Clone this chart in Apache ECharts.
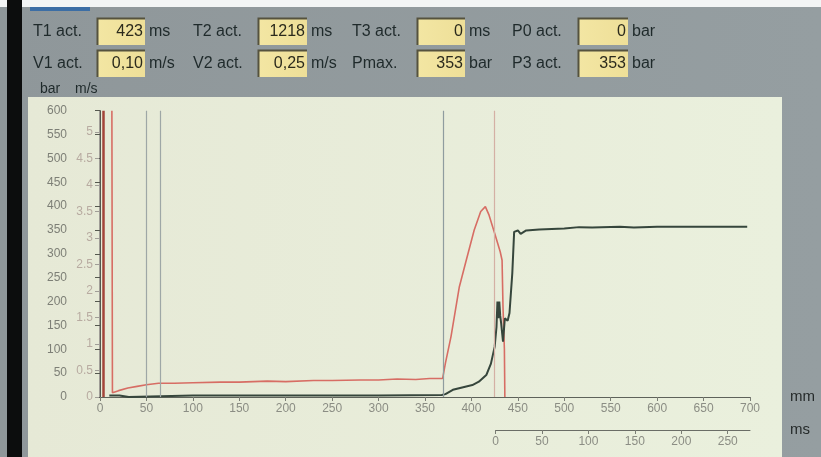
<!DOCTYPE html>
<html>
<head>
<meta charset="utf-8">
<script src="https://cdn.jsdelivr.net/npm/echarts@6/dist/echarts.min.js"></script>
<style>
  html, body { margin: 0; padding: 0; background: #949c9f; }
  #chart { width: 821px; height: 457px; }
</style>
</head>
<body>
<div id="chart"></div>
<script>
// header read-outs
var fieldNames  = ['T1 act.', 'T2 act.', 'T3 act.', 'P0 act.', 'V1 act.', 'V2 act.', 'Pmax.', 'P3 act.'];
var fieldValues = ['423', '1218', '0', '0', '0,10', '0,25', '353', '353'];
var fieldUnits  = ['ms', 'ms', 'ms', 'bar', 'm/s', 'm/s', 'bar', 'bar'];

// axis ticks
var speedTicks = [0, 0.5, 1, 1.5, 2, 2.5, 3, 3.5, 4, 4.5, 5];
var timeTicks  = [0, 50, 100, 150, 200, 250];

// velocity curve (m/s) against stroke (mm)
var speedMm  = [12.8, 13.4, 20, 30, 40, 50, 63, 80, 100, 130, 150, 180, 200, 230, 250, 280, 300, 320, 340, 355, 369,
                372, 378, 387, 394, 403, 410, 415, 419, 425, 431, 433, 434, 435.5, 436];
var speedVal = [5.4, 0.08, 0.12, 0.17, 0.2, 0.23, 0.26, 0.26, 0.27, 0.28, 0.28, 0.3, 0.29, 0.31, 0.31, 0.32, 0.32, 0.34, 0.33, 0.35, 0.35,
                0.64, 1.14, 2.08, 2.55, 3.15, 3.5, 3.59, 3.43, 3.09, 2.74, 2.58, 1.7, 0.9, 0];

// pressure curve (bar) against stroke (mm)
var pressMm  = [10, 21, 22, 31, 32, 100, 200, 300, 368, 372, 380, 390, 401, 408, 416, 421, 425, 427, 428, 429, 430, 431,
                432, 434, 436, 439, 441, 444, 446, 450, 453, 459, 473, 500, 516, 530, 560, 575, 600, 650, 697];
var pressVal = [3, 3, 0, 0, 3, 3, 3, 3, 4, 6, 15, 20, 25, 32, 46, 70, 105, 147, 200, 165, 200, 170,
                155, 116, 165, 160, 176, 259, 346, 349, 342, 349, 351, 353, 356, 355, 357, 355, 357, 357, 357];

// cursor lines (mm)
var cursorMm = [3, 50, 65, 370, 425];
var cursorColors = ['#a3443a', '#9ea7a6', '#9ea7a6', '#8f9c9f', '#d4b0a4'];

function zip(a, b) { return a.map(function (v, i) { return [v, b[i]]; }); }

var font = 'Liberation Sans, Arial, sans-serif';
var g = [];
g.push({ type: 'rect', z: -30, shape: { x: 0, y: 0, width: 821, height: 457 },
  style: { fill: new echarts.graphic.LinearGradient(0, 0, 1, 0, [{ offset: 0, color: '#8f979a' }, { offset: 1, color: '#959ea1' }]) } });
g.push({ type: 'rect', z: -29, shape: { x: 0, y: 0, width: 821, height: 7 }, style: { fill: '#f3f5f5' } });
g.push({ type: 'rect', z: -29, shape: { x: 7, y: 0, width: 15, height: 457 }, style: { fill: '#0c0d0d' } });
g.push({ type: 'rect', z: -29, shape: { x: 30, y: 7, width: 60, height: 4 }, style: { fill: '#3c6ea5' } });
g.push({ type: 'rect', z: -28, shape: { x: 28, y: 97, width: 754, height: 360 },
  style: { fill: new echarts.graphic.LinearGradient(0, 0, 1, 0, [{ offset: 0, color: '#e6e9d6' }, { offset: 1, color: '#eaf0dd' }]) } });

var labelX = [33, 193, 352, 512];
var boxX = [97, 258, 417, 578];
var boxW = [48, 49, 48, 50];
var boxTop = [18, 50];
fieldNames.forEach(function (name, i) {
  var c = i % 4, r = Math.floor(i / 4);
  var y = boxTop[r], mid = y + 13.5;
  g.push({ type: 'text', x: labelX[c], y: mid, style: { text: name, font: '16px ' + font, fill: '#1f2a2b', textVerticalAlign: 'middle' } });
  g.push({ type: 'rect', shape: { x: boxX[c], y: y, width: boxW[c], height: 27 },
    style: { fill: new echarts.graphic.LinearGradient(0, 0, 1, 0, [{ offset: 0, color: '#f3e6a3' }, { offset: 1, color: '#eedf98' }]) } });
  g.push({ type: 'polyline', shape: { points: [[boxX[c] + 0.5, y + 27], [boxX[c] + 0.5, y + 0.5], [boxX[c] + boxW[c], y + 0.5]] },
    style: { stroke: '#55523e', lineWidth: 2, fill: null } });
  g.push({ type: 'text', x: boxX[c] + boxW[c] - 2, y: mid, style: { text: fieldValues[i], font: '16px ' + font, fill: '#2b2a1c', textAlign: 'right', textVerticalAlign: 'middle' } });
  g.push({ type: 'text', x: boxX[c] + boxW[c] + 4, y: mid, style: { text: fieldUnits[i], font: '16px ' + font, fill: '#1f2a2b', textVerticalAlign: 'middle' } });
});
g.push({ type: 'text', x: 40, y: 89, style: { text: 'bar', font: '14px ' + font, fill: '#1f2a2b', textVerticalAlign: 'middle' } });
g.push({ type: 'text', x: 75, y: 89, style: { text: 'm/s', font: '14px ' + font, fill: '#1f2a2b', textVerticalAlign: 'middle' } });

var chart = echarts.init(document.getElementById('chart'));
chart.setOption({
  animation: false,
  textStyle: { fontFamily: font },
  graphic: g,
  grid: [
    { left: 100, right: 71, top: 110.7, bottom: 60 },
    { left: 495.6, right: 71, top: 410, bottom: 27 }
  ],
  xAxis: [
    { type: 'value', gridIndex: 0, min: 0, max: 700, interval: 50,
      name: 'mm', nameLocation: 'end', nameGap: 40,
      nameTextStyle: { color: '#262b2b', fontSize: 15, verticalAlign: 'middle' },
      axisLine: { onZero: false, lineStyle: { color: '#5e625a' } },
      axisTick: { length: 4, lineStyle: { color: '#7a7d74' } },
      axisLabel: { color: '#8b8d84', fontSize: 12, margin: 6 },
      splitLine: { show: false } },
    { type: 'value', gridIndex: 1, min: 0, max: 274,
      name: 'ms', nameLocation: 'end', nameGap: 40,
      nameTextStyle: { color: '#262b2b', fontSize: 15, verticalAlign: 'middle' },
      axisLine: { onZero: false, lineStyle: { color: '#6a6d66' } },
      axisTick: { length: 4, customValues: timeTicks, lineStyle: { color: '#7a7d74' } },
      axisLabel: { customValues: timeTicks, color: '#8b8d84', fontSize: 12, margin: 6 },
      splitLine: { show: false } }
  ],
  yAxis: [
    { type: 'value', gridIndex: 0, min: 0, max: 600, interval: 50, position: 'left', offset: 26,
      axisLine: { show: true, lineStyle: { color: '#55584f' } },
      axisTick: { show: true, length: 5, lineStyle: { color: '#55584f' } },
      axisLabel: { color: '#7d7f76', fontSize: 12, margin: 7 },
      splitLine: { show: false } },
    { type: 'value', gridIndex: 0, min: 0, max: 5.4, position: 'left', offset: 1,
      axisLine: { show: true, lineStyle: { color: '#a09d97' } },
      axisTick: { show: true, length: 4, customValues: speedTicks, lineStyle: { color: '#a09d97' } },
      axisLabel: { customValues: speedTicks, color: '#b8aba1', fontSize: 12, margin: 6 },
      splitLine: { show: false } },
    { type: 'value', gridIndex: 1, min: 0, max: 1, show: false }
  ],
  series: [
    { type: 'line', xAxisIndex: 0, yAxisIndex: 1, showSymbol: false, silent: true,
      data: zip(speedMm, speedVal),
      lineStyle: { color: '#d76d64', width: 1.6 },
      markLine: { symbol: ['none', 'none'], silent: true, label: { show: false },
        data: cursorMm.map(function (m, i) {
          return { xAxis: m, lineStyle: { color: cursorColors[i], width: i === 0 ? 2.5 : 1.2, type: 'solid' } };
        }) } },
    { type: 'line', xAxisIndex: 0, yAxisIndex: 0, showSymbol: false, silent: true,
      data: zip(pressMm, pressVal),
      lineStyle: { color: '#36463c', width: 2 } }
  ]
});
</script>
</body>
</html>
